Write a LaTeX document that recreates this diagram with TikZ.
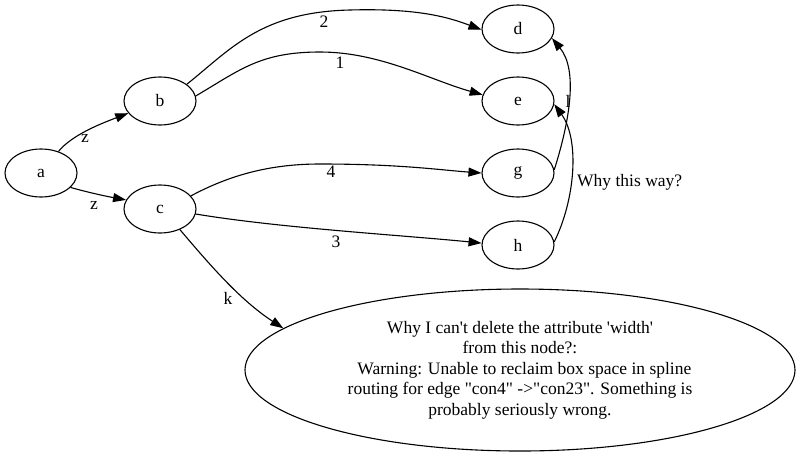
\documentclass[tikz,border=0pt]{standalone}
\usepackage{fontspec}
\setmainfont{Liberation Serif}[Ligatures=TeXOff]
\usetikzlibrary{shapes.geometric,arrows.meta}
\begin{document}
\begin{tikzpicture}[x=1pt,y=-1pt,
  every node/.style={font=\fontsize{17.5}{20.5}\selectfont},
  gnode/.style={draw, ellipse, line width=1.1pt, minimum width=72pt, minimum height=48pt, inner sep=0pt},
  edge/.style={draw, line width=1.1pt, -{Triangle[length=13pt,width=9pt]}},
  lbl/.style={inner sep=1pt}]
\useasboundingbox (0,0) rectangle (797,456);
\node[gnode] (a) at (41,173) {a};
\node[gnode] (b) at (160,101) {b};
\node[gnode] (c) at (160,209) {c};
\node[gnode] (d) at (518,29) {d};
\node[gnode] (e) at (518,101) {e};
\node[gnode] (g) at (518,173) {g};
\node[gnode] (h) at (518,245) {h};
\node[gnode, minimum width=550pt, minimum height=162pt, align=center] (big) at (520,370)
  {Why I can't delete the attribute 'width'\\from this node?:\\\ \ Warning: Unable to reclaim box space in spline\\routing for edge "con4" ->"con23". Something is\\probably seriously wrong.};
% edges
\draw[edge] (a.51) .. controls (72,135) and (100,124) .. (b.201);
\node[lbl] (lz1) at (85,138) {z};
\draw[edge] (a.-26) .. controls (90,193) and (110,197) .. (c.165);
\node[lbl] (lz2) at (94,205) {z};
\draw[edge] (b.32) .. controls (230,50) and (260,12) .. (350,10) .. controls (420,8) and (450,18) .. (d.181);
\node[lbl] (l2) at (324,22) {2};
\draw[edge] (b.8) .. controls (240,70) and (260,52) .. (320,52) .. controls (380,52) and (430,80) .. (e.170);
\node[lbl] (l1) at (340,63) {1};
\draw[edge] (c.23) .. controls (230,175) and (270,164) .. (320,164) .. controls (400,164) and (440,170) .. (g.180);
\node[lbl] (l4) at (331,172) {4};
\draw[edge] (c.-8) .. controls (280,228) and (400,235) .. (h.177);
\node[lbl] (l3) at (336,242) {3};
\draw[edge] (c.-46) .. controls (210,265) and (240,300) .. (big.170);
\node[lbl] (lk) at (228,298) {k};
\draw[edge] (g.5) .. controls (570,120) and (578,70) .. (d.-15);
\node[lbl] (ll) at (568,101) {l};
\draw[edge] (h.5) .. controls (575,200) and (580,140) .. (e.-5);
\node[lbl, anchor=west] (lwhy) at (576,182) {Why this way?};
\end{tikzpicture}
\end{document}
